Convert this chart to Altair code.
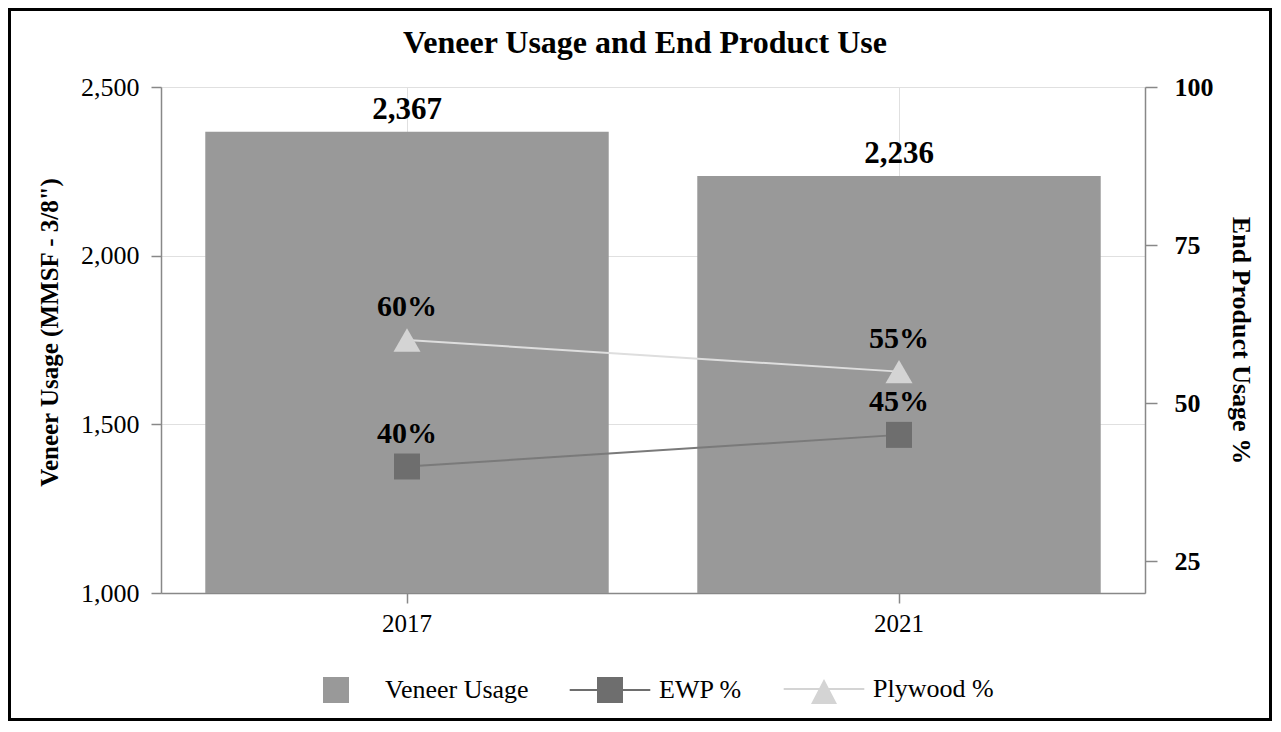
import altair as alt
import pandas as pd

years = ["2017", "2021"]
veneer_usage = [2367, 2236]
ewp_pct = [40, 45]
plywood_pct = [60, 55]

series_names = ["Veneer Usage", "EWP %", "Plywood %"]
series_colors = ["#999999", "#6e6e6e", "#d4d4d4"]
series_symbols = [
    "M-1,-1H1V1H-1Z",
    "M-3.1,-0.08H3.1V0.08H-3.1Z M-1,-1H1V1H-1Z",
    "M-3.1,-0.08H3.1V0.08H-3.1Z M0,-0.77L1,1.15H-1Z",
]

left_ticks = [1000, 1500, 2000, 2500]
right_ticks = [25, 50, 75, 100]

FONT = "Liberation Serif"
AXIS_GRAY = "#888888"
GRID = "#e0e0e0"
PLOT_W = 984
PLOT_H = 506

df = pd.DataFrame({
    "year": years,
    "veneer": veneer_usage,
    "ewp": ewp_pct,
    "plywood": plywood_pct,
})

x_enc = alt.X(
    "year:N",
    sort=years,
    scale=alt.Scale(paddingInner=0.18, paddingOuter=0.09),
    axis=alt.Axis(
        title=None, labelAngle=0, labelFont=FONT, labelFontSize=25,
        labelColor="black", labelPadding=8, tickSize=10, tickColor=AXIS_GRAY,
        domainColor=AXIS_GRAY, domainWidth=1.5, tickWidth=1.5,
        grid=True, gridColor=GRID, bandPosition=0.5,
    ),
)

left_axis = alt.Axis(
    values=left_ticks, format=",.0f", labelFont=FONT, labelFontSize=26,
    labelColor="black", labelPadding=12, tickSize=10, tickColor=AXIS_GRAY,
    tickWidth=1.5, domainColor=AXIS_GRAY, domainWidth=1.5,
    grid=True, gridColor=GRID,
    title='Veneer Usage (MMSF - 3/8")', titleFont=FONT, titleFontSize=25,
    titleFontWeight="bold", titleColor="black", titleAngle=270,
    titleX=-112, titleY=245, titleBaseline="middle", titleAlign="center",
)
left_scale = alt.Scale(domain=[1000, 2500])

right_axis = alt.Axis(
    orient="right", values=right_ticks, format=".0f", labelFont=FONT,
    labelFontSize=26, labelFontWeight="bold", labelColor="black",
    labelAlign="left", labelPadding=17, labelFlush=False,
    tickSize=12, tickColor=AXIS_GRAY, tickWidth=1.5,
    domainColor=AXIS_GRAY, domainWidth=1.5, grid=False,
    title="End Product Usage %", titleFont=FONT, titleFontSize=26,
    titleFontWeight="bold", titleColor="black", titleAngle=90,
    titleX=95, titleY=PLOT_H / 2, titleBaseline="middle", titleAlign="center",
)
right_scale = alt.Scale(domain=[20, 100])

base = alt.Chart(df)

bars = base.mark_bar(color=series_colors[0]).encode(
    x=x_enc,
    y=alt.Y("veneer:Q", scale=left_scale, axis=left_axis),
    y2=alt.datum(1000),
)
bar_labels = base.mark_text(
    font=FONT, fontSize=31, fontWeight="bold", color="black",
    baseline="alphabetic", dy=-13,
).encode(
    x=x_enc,
    y=alt.Y("veneer:Q", scale=left_scale, axis=left_axis),
    text=alt.Text("veneer:Q", format=","),
)
left_group = alt.layer(bars, bar_labels)


def yr(field):
    return alt.Y(f"{field}:Q", scale=right_scale, axis=right_axis)


ewp_line = base.mark_line(color="#7a7a7a", strokeWidth=2).encode(x=x_enc, y=yr("ewp"))
ply_line = base.mark_line(color="#dedede", strokeWidth=2).encode(x=x_enc, y=yr("plywood"))
ewp_pts = base.mark_point(
    shape="square", filled=True, size=676, color=series_colors[1], opacity=1
).encode(x=x_enc, y=yr("ewp"))
ply_pts = base.mark_point(
    shape="triangle-up", filled=True, size=729, color=series_colors[2], opacity=1
).encode(x=x_enc, y=yr("plywood"))

txt_style = dict(font=FONT, fontSize=30, fontWeight="bold", color="black",
                 baseline="alphabetic", dy=-24)
ewp_txt = base.transform_calculate(lbl="datum.ewp + '%'").mark_text(**txt_style).encode(
    x=x_enc, y=yr("ewp"), text="lbl:N")
ply_txt = base.transform_calculate(lbl="datum.plywood + '%'").mark_text(**txt_style).encode(
    x=x_enc, y=yr("plywood"), text="lbl:N")

right_group = alt.layer(ewp_line, ply_line, ewp_pts, ply_pts, ewp_txt, ply_txt)

legend_layer = base.transform_filter("false").transform_calculate(
    s="'x'"
).mark_point(filled=True, opacity=1).encode(
    color=alt.Color(
        "s:N",
        scale=alt.Scale(domain=series_names, range=series_colors),
        legend=alt.Legend(
            title=None, orient="none", legendX=162, legendY=589,
            direction="horizontal", columns=3, symbolSize=676,
            symbolStrokeWidth=0, labelFont=FONT, labelFontSize=26,
            labelColor="black", labelOffset=36, columnPadding=40,
            padding=0, symbolOpacity=1,
        ),
    ),
    shape=alt.Shape("s:N", scale=alt.Scale(domain=series_names, range=series_symbols)),
)

frame = alt.Chart(pd.DataFrame({"f": [0]})).mark_rect(
    fill="transparent", stroke="black", strokeWidth=3
).encode(
    x=alt.value(-151.5), x2=alt.value(1109.5),
    y=alt.value(-77.5), y2=alt.value(632.5),
)

chart = alt.layer(left_group, right_group, legend_layer, frame).resolve_scale(
    y="independent"
).properties(
    width=PLOT_W,
    height=PLOT_H,
    padding={"left": 153, "top": 79, "right": 127, "bottom": 128},
    autosize=alt.AutoSizeParams(type="none"),
    title=alt.TitleParams(
        "Veneer Usage and End Product Use", font=FONT, fontSize=32,
        fontWeight="bold", color="black", anchor="middle", offset=-77,
        baseline="alphabetic", dx=-8,
    ),
).configure_view(stroke=None).configure(background="white")

chart.save("out.html", embed_options={"renderer": "svg", "actions": False})
